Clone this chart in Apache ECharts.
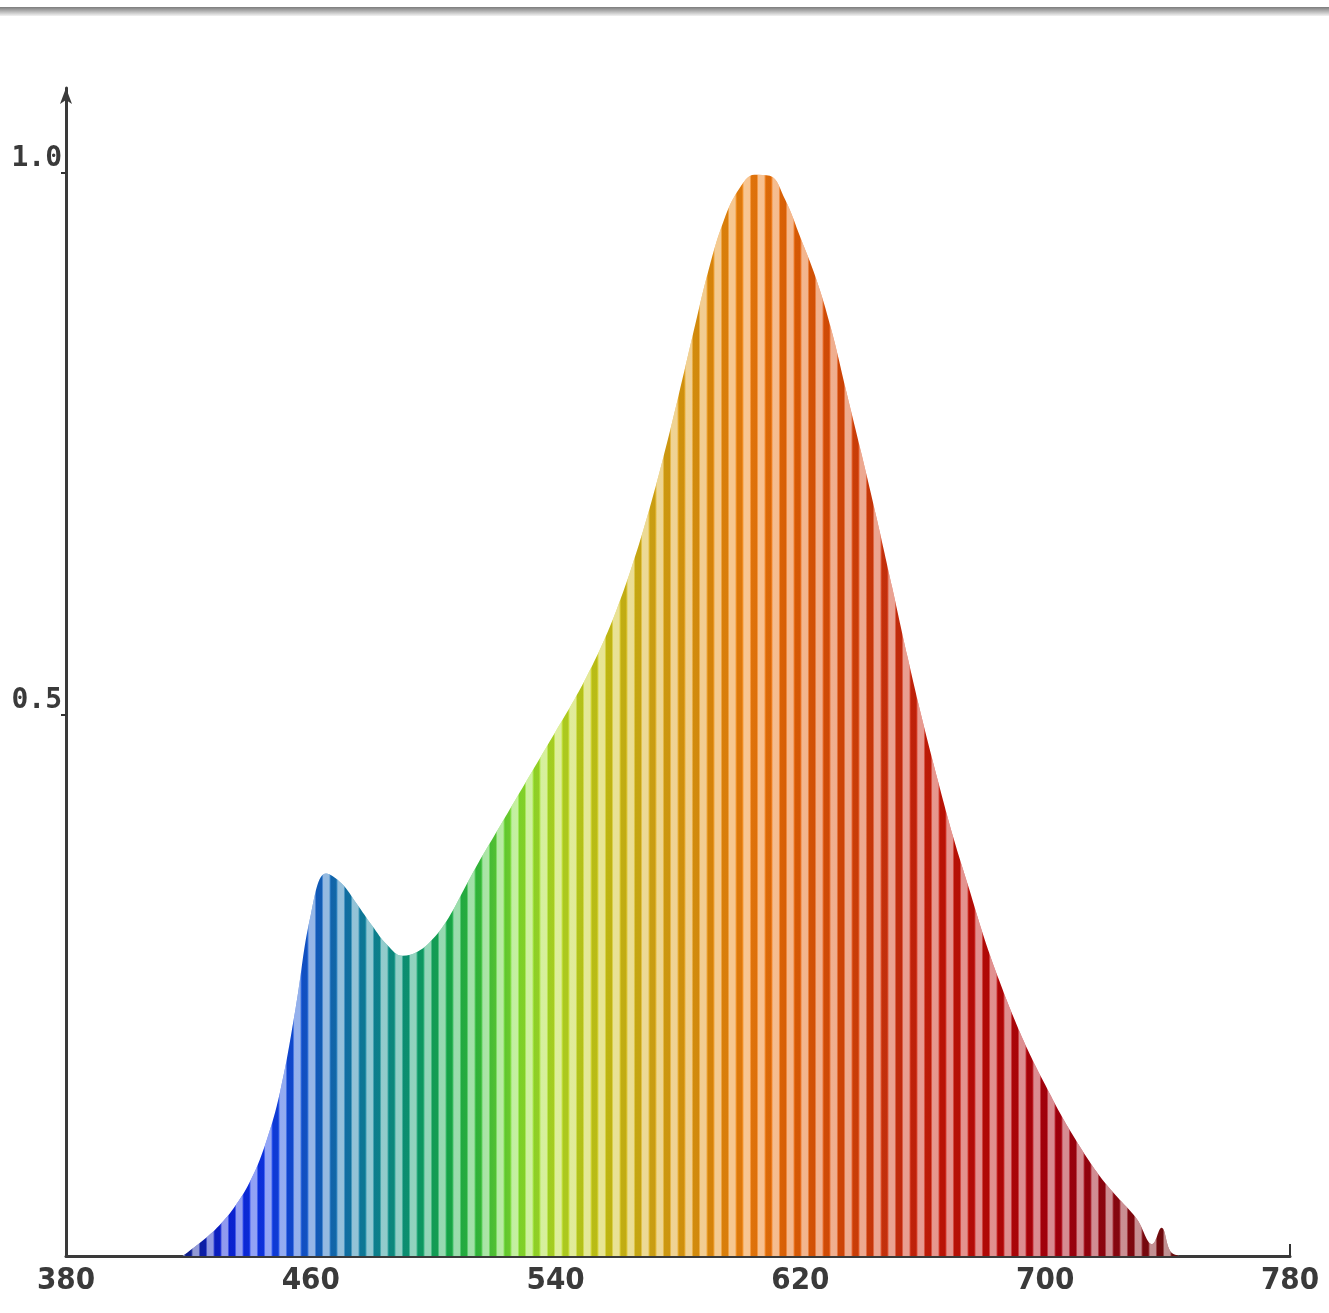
<!DOCTYPE html>
<html>
<head>
<meta charset="utf-8">
<title>Spectrum</title>
<script src="https://cdn.jsdelivr.net/npm/echarts@6/dist/echarts.min.js"></script>
<style>
  html, body { margin: 0; padding: 0; background: #fff; }
  #myChart { width: 1329px; height: 1313px; }
</style>
</head>
<body>
<div id="myChart"></div>
<script>
// wavelength (nm) and relative intensity
const wavelengths = [418, 420, 425, 430, 435, 440, 445, 450, 455, 460, 465, 470, 475, 480, 485, 490, 495, 500,
  505, 510, 515, 520, 525, 530, 535, 540, 545, 550, 555, 560, 565, 570, 575, 580, 585, 590, 595, 600,
  605, 610, 615, 620, 625, 630, 635, 640, 645, 650, 655, 660, 665, 670, 675, 680, 685, 690, 695, 700,
  705, 710, 715, 720, 725, 730, 735, 738, 741, 744];
const intensity = [0, 0.004, 0.015, 0.028, 0.045, 0.068, 0.102, 0.152, 0.228, 0.315, 0.353, 0.344, 0.325, 0.305, 0.287, 0.277, 0.281, 0.293,
  0.312, 0.338, 0.364, 0.388, 0.412, 0.436, 0.460, 0.484, 0.508, 0.534, 0.563, 0.597, 0.637, 0.683, 0.735, 0.792, 0.852, 0.910, 0.956, 0.985,
  0.998, 0.997, 0.975, 0.940, 0.903, 0.856, 0.798, 0.740, 0.680, 0.617, 0.553, 0.493, 0.438, 0.386, 0.340, 0.294, 0.254, 0.218, 0.186, 0.158,
  0.131, 0.107, 0.085, 0.066, 0.050, 0.034, 0.011, 0.026, 0.004, 0];
const xTicks = [380, 460, 540, 620, 700, 780];
const yLabels = [0.5, 1.0];

// colour of the spectrum along the wavelength axis
const colourStops = [
  [418, '#10208a'], [432, '#0a20dc'], [445, '#0e36ec'], [458, '#1256d0'], [468, '#126eb4'],
  [480, '#0e869a'], [493, '#0c9c72'], [505, '#18ae4c'], [515, '#36c03c'], [528, '#84e02c'],
  [540, '#b4dc24'], [555, '#cac614'], [572, '#d8a814'], [590, '#e48e0c'], [603, '#f07e0c'],
  [615, '#e86606'], [635, '#da4606'], [650, '#d0300e'], [665, '#c81606'], [685, '#ba0606'],
  [705, '#a8000e'], [725, '#8c0610'], [744, '#6c0e0e'],
];

const data = wavelengths.map((w, i) => [w, intensity[i]]);

const first = wavelengths[0];
const last = wavelengths[wavelengths.length - 1];
const spectrum = new echarts.graphic.LinearGradient(0, 0, 1, 0,
  colourStops.map(s => ({ offset: (s[0] - first) / (last - first), color: s[1] })));

// pale / dark stripes laid over the spectrum
function stripePattern() {
  const c = document.createElement('canvas');
  c.width = 29;
  c.height = 4;
  const ctx = c.getContext('2d');
  for (let i = 0; i < c.width; i++) {
    const phase = ((i + 0.5) / 14.5) % 1;
    let a = (0.5 - 0.5 * Math.cos(2 * Math.PI * phase)) * 2.6 - 0.8;
    a = Math.max(0, Math.min(1, a));
    if (a > 0.05) {
      ctx.fillStyle = 'rgba(255,255,255,' + (a * 0.55).toFixed(3) + ')';
    } else {
      ctx.fillStyle = 'rgba(0,0,0,0.07)';
    }
    ctx.fillRect(i, 0, 1, c.height);
  }
  return c;
}

const myChart = echarts.init(document.getElementById('myChart'));
myChart.setOption({
  animation: false,
  backgroundColor: '#fff',
  graphic: [{
    type: 'rect',
    left: 0,
    top: 7,
    silent: true,
    shape: { width: 1329, height: 9 },
    style: {
      fill: new echarts.graphic.LinearGradient(0, 0, 0, 1, [
        { offset: 0, color: '#7c7c7c' },
        { offset: 1, color: '#f2f2f2' },
      ]),
    },
  }],
  grid: {
    left: 66,
    right: 39,
    top: 88,
    bottom: 57,
    containLabel: false,
    outerBoundsMode: 'none',
  },
  xAxis: {
    type: 'value',
    min: xTicks[0],
    max: xTicks[xTicks.length - 1],
    interval: xTicks[1] - xTicks[0],
    splitLine: { show: false },
    axisLine: {
      lineStyle: { color: '#3a3a3a', width: 3 },
    },
    axisTick: {
      show: true,
      inside: true,
      length: 12,
      customValues: [xTicks[xTicks.length - 1]],
      lineStyle: { color: '#333', width: 2 },
    },
    axisLabel: {
      margin: 9,
      color: '#3a3a3a',
      fontSize: 31,
      fontWeight: 'bold',
      fontFamily: "'Liberation Sans Narrow', 'DejaVu Sans Condensed', sans-serif",
      showMinLabel: true,
      showMaxLabel: true,
    },
  },
  yAxis: {
    type: 'value',
    min: 0,
    max: 1.078,
    interval: 0.5,
    splitLine: { show: false },
    axisLine: {
      show: true,
      symbol: ['none', 'arrow'],
      symbolSize: [9, 16],
      lineStyle: { color: '#3a3a3a', width: 3 },
    },
    axisTick: {
      show: true,
      length: 5,
      customValues: yLabels,
      lineStyle: { color: '#333', width: 2 },
    },
    axisLabel: {
      margin: 4,
      verticalAlign: 'bottom',
      color: '#3a3a3a',
      fontSize: 28,
      fontWeight: 'bold',
      fontFamily: "'DejaVu Sans Mono', monospace",
      customValues: yLabels,
      formatter(value) {
        return yLabels.indexOf(value) >= 0 ? value.toFixed(1) : '';
      },
    },
  },
  series: [
    {
      type: 'line',
      data,
      smooth: 0.4,
      symbol: 'none',
      silent: true,
      z: 2,
      lineStyle: { width: 0, opacity: 0 },
      areaStyle: { opacity: 1, color: spectrum },
    },
    {
      type: 'line',
      data,
      smooth: 0.4,
      symbol: 'none',
      silent: true,
      z: 3,
      lineStyle: { width: 0, opacity: 0 },
      areaStyle: { opacity: 1, color: { image: stripePattern(), repeat: 'repeat' } },
    },
  ],
});
</script>
</body>
</html>
